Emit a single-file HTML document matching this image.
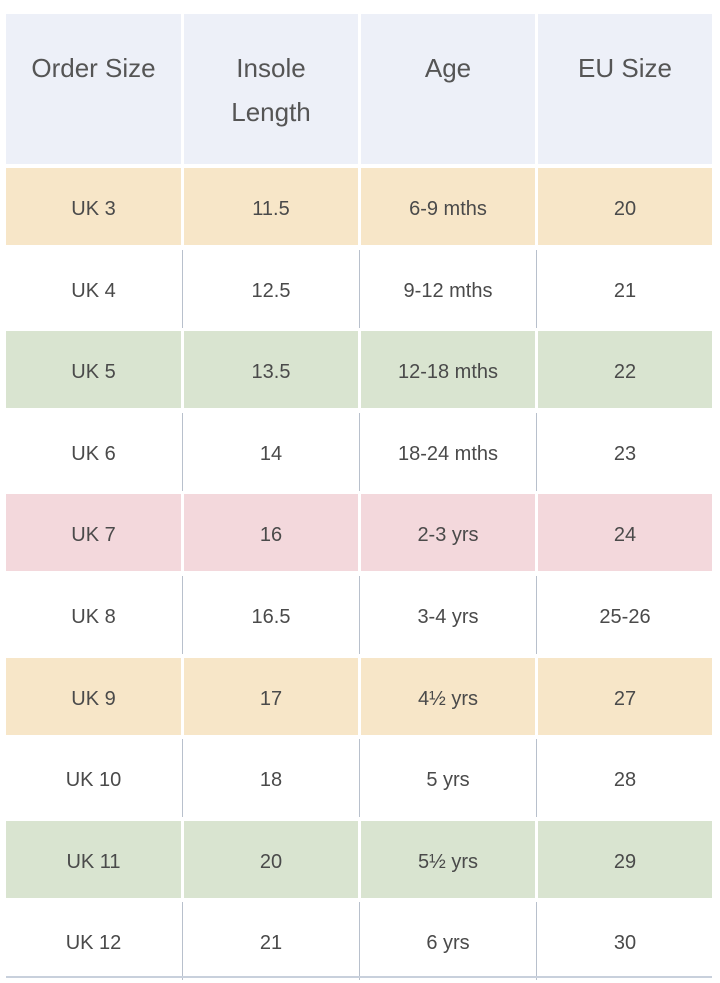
<!DOCTYPE html><html><head><style>
body{margin:0;width:720px;height:983px;background:#fff;position:relative;font-family:"Liberation Sans",sans-serif;color:#4a4a4a;overflow:hidden}
.c{position:absolute;display:flex;align-items:center;justify-content:center;text-align:center;font-size:20px;box-sizing:border-box;padding-top:6px}
.h{background:#edf0f8;font-size:26px;color:#555;align-items:flex-start;line-height:44px;padding-top:0}
.v{position:absolute;width:1px;background:#b8c0cc}
.b{position:absolute;height:2px;background:#c8d0dc;left:6px;width:706px}
</style></head><body>
<div id="t"></div>
<script>
var cols=[[6,175],[184,174],[361,174],[538,174]];
var rows=[["UK 3","11.5","6-9 mths","20","#f7e6c8"],["UK 4","12.5","9-12 mths","21",""],["UK 5","13.5","12-18 mths","22","#d9e4d0"],["UK 6","14","18-24 mths","23",""],["UK 7","16","2-3 yrs","24","#f3d8dc"],["UK 8","16.5","3-4 yrs","25-26",""],["UK 9","17","4½ yrs","27","#f7e6c8"],["UK 10","18","5 yrs","28",""],["UK 11","20","5½ yrs","29","#d9e4d0"],["UK 12","21","6 yrs","30",""]];
var h=["Order Size","Insole<br>Length","Age","EU Size"],s="";
for(var j=0;j<4;j++)s+='<div class="c h" style="left:'+cols[j][0]+'px;width:'+cols[j][1]+'px;top:14px;height:150px"><div style="margin-top:32px">'+h[j]+'</div></div>';
for(var i=0;i<10;i++){var yy=Math.round(168+i*81.6),r=rows[i];
for(var j=0;j<4;j++)s+='<div class="c" style="left:'+cols[j][0]+'px;width:'+cols[j][1]+'px;top:'+yy+'px;height:77px;background:'+(r[4]||'#fff')+'">'+r[j]+'</div>';
if(!r[4])for(var k=1;k<4;k++)s+='<div class="v" style="left:'+(cols[k][0]-2)+'px;top:'+yy+'px;height:78px"></div>';}
s+='<div class="b" style="top:976px"></div>';
document.getElementById("t").innerHTML=s;
</script></body></html>
